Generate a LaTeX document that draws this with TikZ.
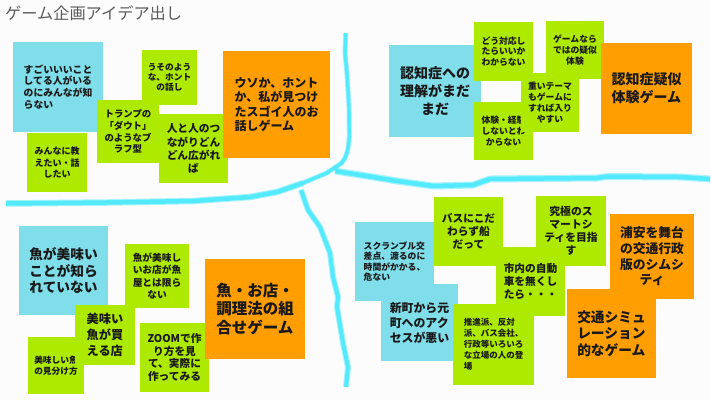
\documentclass[tikz,border=0pt]{standalone}
\usepackage{fontspec}
\setmainfont{Noto Sans CJK JP}
\definecolor{noteblue}{HTML}{80DEEA}
\definecolor{notegreen}{HTML}{AEEA00}
\definecolor{noteorange}{HTML}{FF9E00}
\definecolor{brushcyan}{HTML}{3FE8FF}
\definecolor{pagebg}{HTML}{FCFCFC}
\definecolor{titlegray}{HTML}{5A5A5A}
\tikzset{
  stickybase/.style={rectangle, inner sep=0pt, text=black!90, anchor=center},
  wh/.style 2 args={minimum width=#1 bp, minimum height=#2 bp},
  ts/.style 2 args={font=\bfseries\fontsize{#1bp}{#2bp}\selectfont},
  bluebox/.style={stickybase, fill=noteblue},
  greenbox/.style={stickybase, fill=notegreen},
  orangebox/.style={stickybase, fill=noteorange},
  brushhalo/.style={draw=brushcyan, opacity=0.45, line cap=butt, line join=round},
  brushcore/.style={draw=brushcyan, opacity=0.8, line cap=butt, line join=round},
}
\begin{document}
\begin{tikzpicture}[x=1bp,y=-1bp]
\useasboundingbox (0,0) rectangle (711,400);
\fill[pagebg] (0,0) rectangle (711,400);
% hand-drawn dividers
\def\strokeA{(345.7,33) -- (345,53) -- (346.7,70) -- (349,107) -- (349.3,137) .. controls (348.5,150) and (346,158) .. (341.7,163) -- (326.7,173) -- (303,183)}
\def\strokeB{(303,183) -- (277,192) -- (250,197) -- (193,201) -- (107,202.5) -- (6,203.5)}
\def\strokeC{(335,171) -- (373,177) -- (397,181) -- (433,186) -- (473,185) -- (490,179) -- (597,178) -- (607,176.5) -- (680,177) -- (710,179)}
\def\strokeD{(301,190) -- (308,210) -- (320,227) -- (330,253) -- (333,277) -- (338,297) -- (337,307) -- (343,343) -- (348,367) -- (346,387)}
\draw[brushhalo, line width=5bp] \strokeA;
\draw[brushcore, line width=3.4bp] \strokeA;
\draw[brushhalo, line width=6.5bp] \strokeB;
\draw[brushcore, line width=4.5bp] \strokeB;
\draw[brushhalo, line width=7bp] \strokeC;
\draw[brushcore, line width=4.5bp] \strokeC;
\draw[brushhalo, line width=6bp] \strokeD;
\draw[brushcore, line width=4bp] \strokeD;
% title
\node[anchor=west, inner sep=0pt, text=titlegray, font=\fontsize{16.2bp}{18bp}\selectfont] (title) at (5,13) {ゲーム企画アイデア出し};
% upper left
\node (a1) [bluebox, wh={90}{90}, ts={9.8}{11.8}, align=left] at (58,87) {すごいいいこと\\してる人がいる\\のにみんなが知\\らない};
\node (a2) [greenbox, wh={60}{59}, ts={9}{11.3}, align=center] at (57,162.5) {みんなに教\\えたい・話\\したい};
\node (a3) [greenbox, wh={55}{55}, ts={8.7}{10.3}, align=center] at (169.5,77.5) {うそのよう\\な、ホント\\の話し};
\node (a4) [greenbox, wh={62}{63}, ts={9.4}{11.8}, align=center] at (128,131.5) {トランプの\\「ダウト」\\のようなブ\\ラフ型};
\node (a5) [greenbox, wh={69}{69}, ts={10.7}{13.2}, align=center] at (193.5,148.5) {人と人のつ\\ながりどん\\どん広がれ\\ば};
\node (a6) [orangebox, wh={107}{107}, ts={12}{14.3}, align=left] at (276.5,104.5) {ウソか、ホント\\か、私が見つけ\\たスゴイ人のお\\話しゲーム};
% upper right
\node (b1) [bluebox, wh={92}{92}, ts={14}{17.8}, align=center] at (435,91) {認知症への\\理解がまだ\\まだ};
\node (b2) [greenbox, wh={59}{59}, ts={8.8}{10.8}, align=center] at (503.5,51.5) {どう対応し\\たらいいか\\わからない};
\node (b3) [greenbox, wh={58}{58}, ts={8.8}{10.8}, align=center] at (575,50) {ゲームなら\\ではの疑似\\体験};
\node (b4) [greenbox, wh={59}{58}, ts={8.8}{10.8}, align=center] at (503.5,131) {体験・経験\\しないとわ\\からない};
\node (b5) [greenbox, wh={58}{59}, ts={8.8}{10.9}, align=center] at (550,102.5) {重いテーマ\\もゲームに\\すれば入り\\やすい};
\node (b6) [orangebox, wh={91}{91}, ts={14}{18}, align=left] at (646.5,88.5) {認知症疑似\\体験ゲーム};
% lower left
\node (c1) [bluebox, wh={89}{89}, ts={13.7}{16.7}, align=center] at (63.5,270.5) {魚が美味い\\ことが知ら\\れていない};
\node (c2) [greenbox, wh={64}{64}, ts={9.7}{12.4}, align=center] at (157,276) {魚が美味し\\いお店が魚\\屋とは限ら\\ない};
\node (c4) [greenbox, wh={56}{57}, ts={8.7}{10.7}, align=center] at (56,365.5) {美味しい魚\\の見分け方};
\node (c3) [greenbox, wh={60}{60}, ts={12.2}{16}, align=left] at (105,335) {美味い\\魚が買\\える店};
\node (c5) [greenbox, wh={69}{69}, ts={10.7}{12.5}, align=center] at (174.5,357.5) {ZOOMで作\\り方を見\\て、実際に\\作ってみる};
\node (c6) [orangebox, wh={100}{100}, ts={15.5}{18.8}, align=left] at (255,309) {魚・お店・\\調理法の組\\合せゲーム};
% lower right
\node (d1) [bluebox, wh={79}{79}, ts={8.8}{10.5}, align=left] at (394.5,261.5) {スクランブル交\\差点、渡るのに\\時間がかかる、\\危ない};
\node (d2) [bluebox, wh={77}{77}, ts={11.9}{15}, align=left] at (419.5,322.5) {新町から元\\町へのアク\\セスが悪い};
\node (d3) [greenbox, wh={69}{69}, ts={10.7}{13}, align=center] at (468.5,231.5) {バスにこだ\\わらず船\\だって};
\node (d4) [greenbox, wh={70}{70}, ts={10.8}{12.8}, align=center] at (571,231) {究極のス\\マートシ\\ティを目指\\す};
\node (d5) [greenbox, wh={69}{69}, ts={10.7}{12.9}, align=left] at (530.5,281.5) {市内の自動\\車を無くし\\たら・・・};
\node (d6) [greenbox, wh={81}{81}, ts={8.5}{10.9}, align=left] at (493.5,344.5) {推進派、反対\\派、バス会社、\\行政等いろいろ\\な立場の人の登\\場};
\node (d7) [orangebox, wh={84}{85}, ts={12.8}{15.7}, align=center] at (652,256.5) {浦安を舞台\\の交通行政\\版のシムシ\\ティ};
\node (d8) [orangebox, wh={89}{89}, ts={13.7}{16.7}, align=left] at (611.5,333.5) {交通シミュ\\レーション\\的なゲーム};
\end{tikzpicture}
\end{document}
